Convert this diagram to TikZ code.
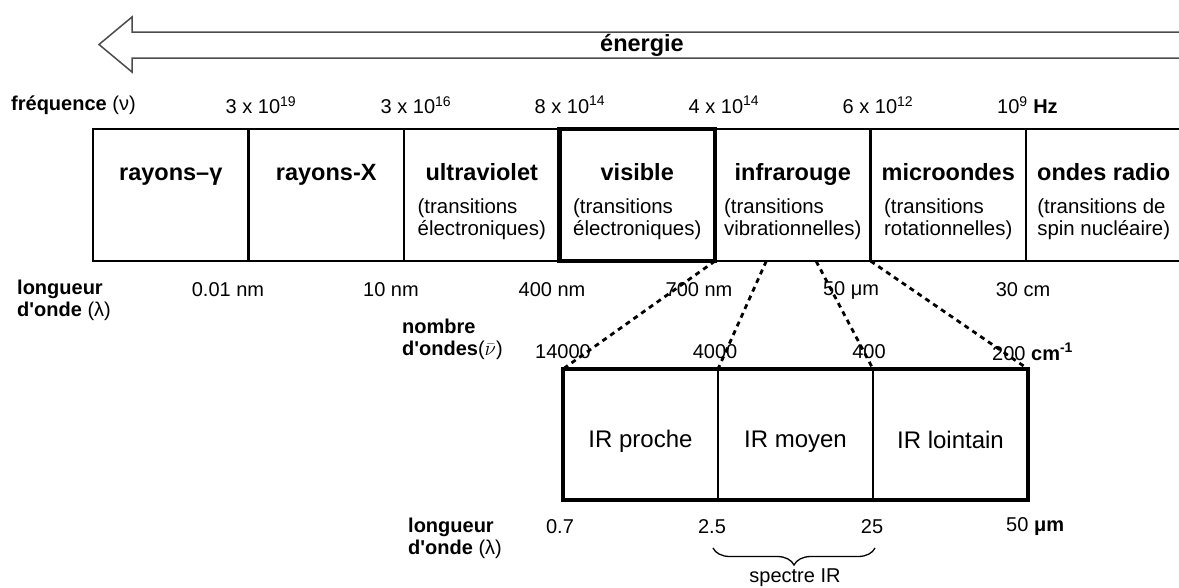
\documentclass[tikz,border=0pt]{standalone}
\usepackage{fontspec}
\setmainfont{Liberation Sans}
\usetikzlibrary{positioning,calc,decorations.pathreplacing}

\begin{document}
\begin{tikzpicture}[x=1pt,y=-1pt,node distance=155.5pt,
	cell/.style={draw,line width=2.5pt,minimum width=155.5pt,minimum height=132pt,inner sep=0pt,outer sep=0pt},
	subcell/.style={draw,line width=2.5pt,minimum width=155pt,minimum height=131pt,inner sep=0pt,outer sep=0pt},
	head/.style={font=\fontsize{23.5}{26}\selectfont\bfseries,anchor=base,inner sep=1pt},
	sub/.style={font=\fontsize{20.4}{21.5}\selectfont,align=left,inner sep=1pt},
	big/.style={font=\fontsize{24}{26}\selectfont,anchor=base,inner sep=1pt},
	lab/.style={font=\fontsize{20}{22}\selectfont,inner sep=1pt},
	dots/.style={line width=2.8pt,dash pattern=on 5pt off 4.5pt}]
	\useasboundingbox (0,0) rectangle (1179,587);

	% fleche energie
	\draw[line width=1.5pt,black!70,line join=miter] (1179,32) -- (132,32) -- (132,17) -- (99,44.5) -- (132,72) -- (132,58) -- (1179,58);
	\node[head,anchor=center] (en) at (642,45) {énergie};

	% spectre
	\node[cell] (gam) at (170.75,195) {};
	\node[cell] (xray) [right of=gam] {};
	\node[cell] (uv) [right of=xray] {};
	\node[cell] (vis) [right of=uv] {};
	\node[cell] (ir) [right of=vis] {};
	\node[cell] (micro) [right of=ir] {};
	\node[cell] (radio) [right of=micro] {};
	\draw[line width=4.5pt] (vis.north west) rectangle (vis.south east);

	\node[head] (tgam) at ($(gam.north)+(0,51)$) {rayons–γ};
	\node[head] (txray) at ($(xray.north)+(0,51)$) {rayons-X};
	\node[head] (tuv) at ($(uv.north)+(0,51)$) {ultraviolet};
	\node[head] (tvis) at ($(vis.north)+(0,51)$) {visible};
	\node[head] (tir) at ($(ir.north)+(0,51)$) {infrarouge};
	\node[head] (tmicro) at ($(micro.north)+(0,51)$) {microondes};
	\node[head] (tradio) at ($(radio.north)+(0,51)$) {ondes radio};

	\node[sub] (suv) at ($(uv.north)+(0,90)$) {(transitions\\électroniques)};
	\node[sub] (svis) at ($(vis.north)+(0,90)$) {(transitions\\électroniques)};
	\node[sub] (sir) at ($(ir.north)+(0,90)$) {(transitions\\vibrationnelles)};
	\node[sub] (smicro) at ($(micro.north)+(0,90)$) {(transitions\\rotationnelles)};
	\node[sub] (sradio) at ($(radio.north)+(0,90)$) {(transitions de\\spin nucléaire)};

	% frequences
	\node[lab,anchor=west] (freq) at (10,105) {\textbf{fréquence} (ν)};
	\node[lab] (f1) at (261,105) {3 x 10\textsuperscript{19}};
	\node[lab] (f2) at (416,105) {3 x 10\textsuperscript{16}};
	\node[lab] (f3) at (570,105) {8 x 10\textsuperscript{14}};
	\node[lab] (f4) at (724,105) {4 x 10\textsuperscript{14}};
	\node[lab] (f5) at (878,105) {6 x 10\textsuperscript{12}};
	\node[lab,anchor=west] (f6) at (996,105) {10\textsuperscript{9} \textbf{Hz}};

	% longueurs d'onde
	\node[lab,anchor=north west,align=left] (lam) at (16,279) {\textbf{longueur}\\\textbf{d\textquotesingle onde} (λ)};
	\node[lab] (l1) at (228,290) {0.01 nm};
	\node[lab] (l2) at (391,290) {10 nm};
	\node[lab] (l3) at (552,290) {400 nm};
	\node[lab] (l4) at (699,290) {700 nm};
	\node[lab] (l5) at (851,290) {50 μm};
	\node[lab] (l6) at (1023,290) {30 cm};

	% zoom infrarouge
	\node[subcell] (proche) at (640.5,434.5) {};
	\node[subcell] (moyen) [right of=proche,node distance=155pt] {};
	\node[subcell] (lointain) [right of=moyen,node distance=155pt] {};
	\draw[line width=3.5pt] (proche.north west) rectangle (lointain.south east);
	\node[big] (tpro) at ($(proche)+(0,13)$) {IR proche};
	\node[big] (tmoy) at ($(moyen)+(0,13)$) {IR moyen};
	\node[big] (tloin) at ($(lointain)+(0,14)$) {IR lointain};

	\coordinate (ira) at ($(ir.south west)!0.33!(ir.south east)$);
	\coordinate (irb) at ($(ir.south west)!0.65!(ir.south east)$);
	\draw[dots] (vis.south east) -- (proche.north west);
	\draw[dots] (ira) -- (moyen.north west);
	\draw[dots] (irb) -- (lointain.north west);
	\draw[dots] (ir.south east) -- (lointain.north east);

	\node[lab,anchor=north west,align=left] (nomb) at (401,318) {\textbf{nombre}\\\textbf{d\textquotesingle ondes}($\bar{\nu}$)};
	\node[lab] (n1) at (563,352) {14000};
	\node[lab] (n2) at (715,352) {4000};
	\node[lab] (n3) at (869,352) {400};
	\node[lab,anchor=west] (n4) at (991,352) {200 \textbf{cm\textsuperscript{-1}}};

	\node[lab,anchor=north west,align=left] (lam2) at (407,517) {\textbf{longueur}\\\textbf{d\textquotesingle onde} (λ)};
	\node[lab] (w1) at (560,527) {0.7};
	\node[lab] (w2) at (712,527) {2.5};
	\node[lab] (w3) at (872,527) {25};
	\node[lab,anchor=west] (w4) at (1005,527) {50 \textbf{μm}};

	% spectre IR
	\coordinate (b1) at (713,548);
	\coordinate (b2) at (875,548);
	\draw[line width=1.3pt,decorate,decoration={brace,mirror,amplitude=17pt}] (b1) -- (b2);
	\node[lab] (sir2) at (795,578) {spectre IR};
\end{tikzpicture}
\end{document}
